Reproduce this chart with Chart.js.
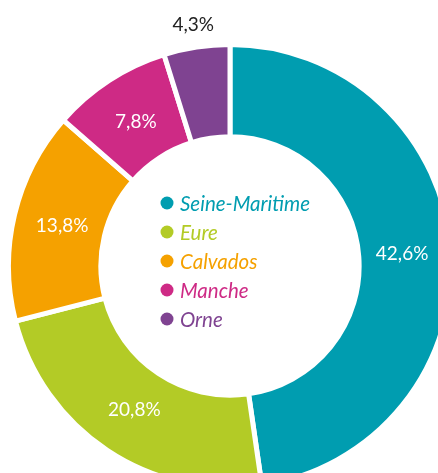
<!DOCTYPE html>
<html>
<head>
<meta charset="utf-8">
<script src="https://cdn.jsdelivr.net/npm/chart.js@4"></script>
<style>
  html, body { margin: 0; padding: 0; background: #fff; overflow: hidden; width: 438px; height: 473px; }
  #wrap { position: absolute; left: 6px; top: 0; }
</style>
</head>
<body>
<div id="wrap"><canvas id="donut" width="448" height="490"></canvas></div>
<script>
const departements = ['Seine-Maritime', 'Eure', 'Calvados', 'Manche', 'Orne'];
const parts = [42.6, 20.8, 13.8, 7.8, 4.3];
const couleurs = ['#009db0', '#b3cb26', '#f5a100', '#ce2a85', '#7f4391'];

const fmt = v => v.toFixed(1).replace('.', ',') + '%';

// étiquettes % sur les parts + légende au centre
const etiquettes = {
    id: 'etiquettes',
    afterDraw(chart) {
        const ctx = chart.ctx;
        const meta = chart.getDatasetMeta(0);
        ctx.save();
        ctx.textAlign = 'center';
        ctx.textBaseline = 'middle';
        ctx.font = '19px Lato';
        meta.data.forEach((arc, i) => {
            const a = (arc.startAngle + arc.endAngle) / 2;
            let r;
            if (i === parts.length - 1) {
                // la petite part (Orne) : texte à l'extérieur
                r = arc.outerRadius + 22;
                ctx.fillStyle = '#222';
            } else {
                r = arc.innerRadius + (arc.outerRadius - arc.innerRadius) * 0.47;
                ctx.fillStyle = '#fff';
            }
            ctx.fillText(fmt(parts[i]), arc.x + Math.cos(a) * r, arc.y + Math.sin(a) * r);
        });

        // légende
        const cx = meta.data[0].x;
        const cy = meta.data[0].y;
        const y0 = cy - 63;
        ctx.textAlign = 'left';
        ctx.font = 'italic 20.5px Lato';
        departements.forEach((d, i) => {
            const y = y0 + i * 29;
            ctx.fillStyle = couleurs[i];
            ctx.beginPath();
            ctx.arc(cx - 63, y, 6.5, 0, Math.PI * 2);
            ctx.fill();
            ctx.fillText(d, cx - 50, y + 1);
        });
        ctx.restore();
    }
};

new Chart(document.getElementById('donut'), {
    type: 'doughnut',
    data: {
        labels: departements,
        datasets: [{
            data: parts,
            backgroundColor: couleurs,
            borderColor: '#fff',
            borderWidth: 5,
            hoverOffset: 0
        }]
    },
    options: {
        responsive: false,
        animation: false,
        cutout: '58.3%',
        layout: { padding: { top: 42 } },
        plugins: {
            legend: { display: false },
            tooltip: { enabled: false }
        }
    },
    plugins: [etiquettes]
});
</script>
</body>
</html>
